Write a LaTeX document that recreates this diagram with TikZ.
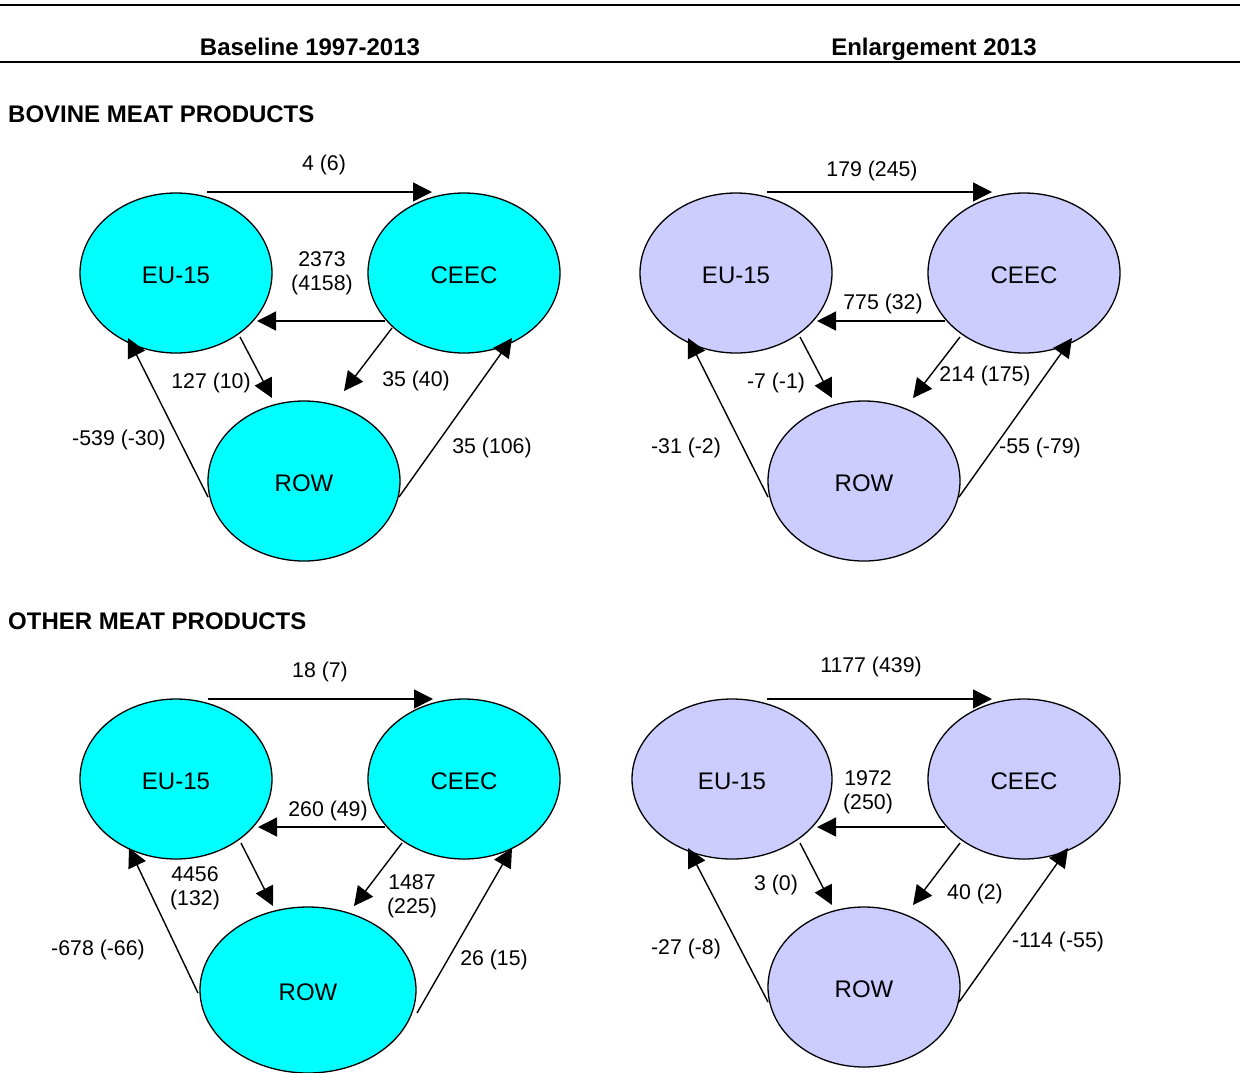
\documentclass[tikz,border=0pt]{standalone}
\usepackage{fontspec}
\setmainfont{Liberation Sans}
\usetikzlibrary{shapes.geometric,arrows.meta,calc}
\definecolor{aqua}{RGB}{0,255,255}
\definecolor{lavender}{RGB}{204,204,255}
\tikzset{
  region/.style={ellipse,draw,line width=1.3pt,minimum width=192pt,minimum height=160pt,inner sep=0pt,text height=21pt,text depth=0pt,font=\fontsize{24}{28}\selectfont},
  flow/.style={line width=1.4pt,-{Triangle[length=19pt,width=19pt]}},
  val/.style={font=\fontsize{21.3}{24}\selectfont,align=center,inner sep=0pt,yshift=-2pt},
  head/.style={font=\bfseries\fontsize{24}{28}\selectfont,inner sep=0pt}
}
\begin{document}
\begin{tikzpicture}[x=1pt,y=-1pt]
\useasboundingbox (0,0) rectangle (1240,1072);
\draw[line width=2.5pt](0,5)--(1240,5);
\draw[line width=2pt](0,62)--(1240,62);
\node[head,anchor=base] (base) at (310,55.5) {Baseline 1997-2013};
\node[head,anchor=base] (enl) at (934,55.5) {Enlargement 2013};
\node[head,anchor=west] (bovine) at (8,114.5) {BOVINE MEAT PRODUCTS};
\node[head,anchor=west] (other) at (8,621) {OTHER MEAT PRODUCTS};
% bovine, baseline
\begin{scope}
\node[region,fill=aqua] (eu1) at (176,273) {EU-15};
\node[region,fill=aqua] (ceec1) at (464,273) {CEEC};
\node[region,fill=aqua] (row1) at (304,481) {ROW};
\draw[flow]($(eu1)+(31,-81)$)--($(ceec1)+(-32,-81)$);
\draw[flow]($(ceec1)+(-79,48)$)--($(eu1)+(81,48)$);
\draw[flow]($(eu1)+(64,64)$)--($(row1)+(-32,-83)$);
\draw[flow]($(ceec1)+(-72,55)$)--($(row1)+(40,-90)$);
\draw[flow]($(row1)+(-96,16)$)--($(eu1)+(-48,65)$);
\draw[flow]($(row1)+(95,16)$)--($(ceec1)+(48,65)$);
\node[val] (v1a) at (324,163) {4 (6)};
\node[val] (v1b) at (322,271) {2373\\(4158)};
\node[val] (v1c) at (211,381) {127 (10)};
\node[val] (v1d) at (416,379) {35 (40)};
\node[val] (v1e) at (119,438) {-539 (-30)};
\node[val] (v1f) at (492,446) {35 (106)};
\end{scope}
% bovine, enlargement
\begin{scope}[shift={(560,0)}]
\node[region,fill=lavender] (eu2) at (176,273) {EU-15};
\node[region,fill=lavender] (ceec2) at (464,273) {CEEC};
\node[region,fill=lavender] (row2) at (304,481) {ROW};
\draw[flow]($(eu2)+(31,-81)$)--($(ceec2)+(-32,-81)$);
\draw[flow]($(ceec2)+(-79,48)$)--($(eu2)+(81,48)$);
\draw[flow]($(eu2)+(64,64)$)--($(row2)+(-32,-83)$);
\draw[flow]($(ceec2)+(-64,64)$)--($(row2)+(49,-83)$);
\draw[flow]($(row2)+(-96,16)$)--($(eu2)+(-48,65)$);
\draw[flow]($(row2)+(95,16)$)--($(ceec2)+(48,65)$);
\node[val] (v2a) at (312,169) {179 (245)};
\node[val] (v2b) at (323,302) {775 (32)};
\node[val] (v2c) at (216,381) {-7 (-1)};
\node[val] (v2d) at (425,374) {214 (175)};
\node[val] (v2e) at (126,446) {-31 (-2)};
\node[val] (v2f) at (480,446) {-55 (-79)};
\end{scope}
% other meat, baseline
\begin{scope}[shift={(0,506)}]
\node[region,fill=aqua] (eu3) at (176,273) {EU-15};
\node[region,fill=aqua] (ceec3) at (464,273) {CEEC};
\node[region,fill=aqua,minimum width=216pt,minimum height=166pt] (row3) at (308,484) {ROW};
\draw[flow]($(eu3)+(32,-80)$)--($(ceec3)+(-31,-80)$);
\draw[flow]($(ceec3)+(-79,48)$)--($(eu3)+(82,48)$);
\draw[flow]($(eu3)+(65,64)$)--($(row3)+(-35,-84)$);
\draw[flow]($(ceec3)+(-62,64)$)--($(row3)+(46,-84)$);
\draw[flow]($(row3)+(-110,3)$)--($(eu3)+(-47,69)$);
\draw[flow]($(row3)+(109,23)$)--($(ceec3)+(48,69)$);
\node[val] (v3a) at (320,164) {18 (7)};
\node[val] (v3b) at (328,303) {260 (49)};
\node[val] (v3c) at (195,380) {4456\\(132)};
\node[val] (v3d) at (412,388) {1487\\(225)};
\node[val] (v3e) at (98,442) {-678 (-66)};
\node[val] (v3f) at (494,452) {26 (15)};
\end{scope}
% other meat, enlargement
\begin{scope}[shift={(560,506)}]
\node[region,fill=lavender,minimum width=200pt] (eu4) at (172,273) {EU-15};
\node[region,fill=lavender] (ceec4) at (464,273) {CEEC};
\node[region,fill=lavender] (row4) at (304,481) {ROW};
\draw[flow]($(eu4)+(35,-80)$)--($(ceec4)+(-32,-80)$);
\draw[flow]($(ceec4)+(-79,48)$)--($(eu4)+(85,48)$);
\draw[flow]($(eu4)+(68,64)$)--($(row4)+(-32,-82)$);
\draw[flow]($(ceec4)+(-64,64)$)--($(row4)+(49,-82)$);
\draw[flow]($(row4)+(-96,15)$)--($(eu4)+(-44,69)$);
\draw[flow]($(row4)+(95,15)$)--($(ceec4)+(44,69)$);
\node[val] (v4a) at (311,159) {1177 (439)};
\node[val] (v4b) at (308,284) {1972\\(250)};
\node[val] (v4c) at (216,377) {3 (0)};
\node[val] (v4d) at (415,386) {40 (2)};
\node[val] (v4e) at (126,441) {-27 (-8)};
\node[val] (v4f) at (498,434) {-114 (-55)};
\end{scope}
\end{tikzpicture}
\end{document}
